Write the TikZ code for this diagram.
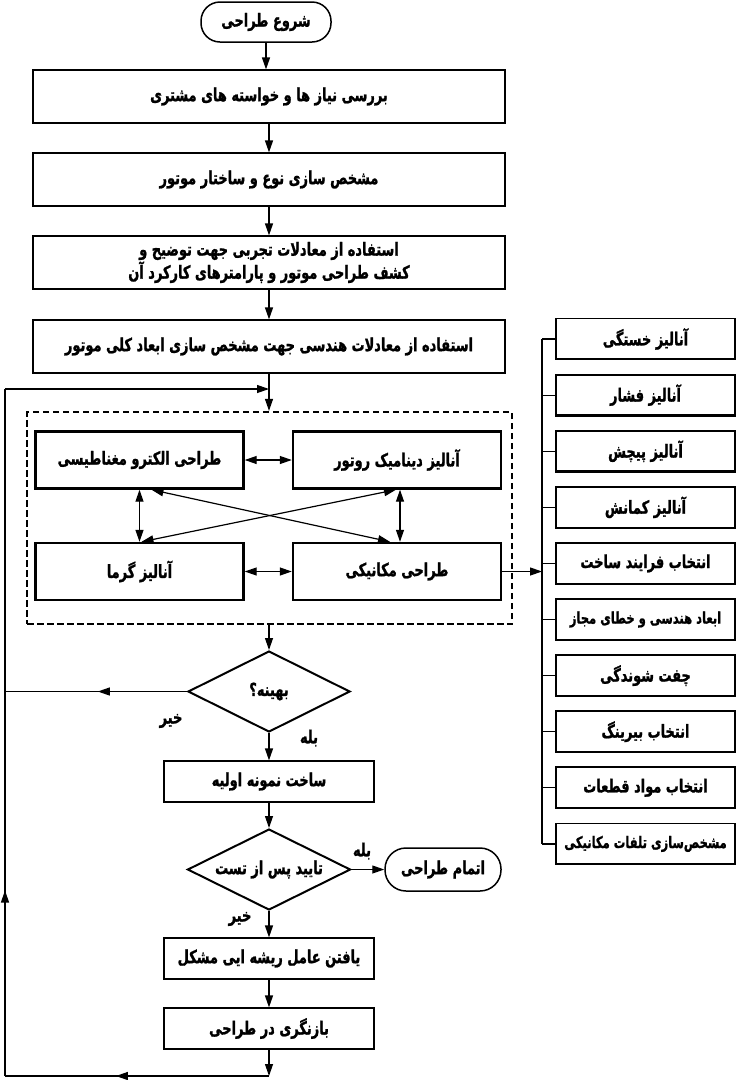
\documentclass[tikz,border=0pt]{standalone}
\usepackage{fontspec}
\newfontfamily\persianfont[Script=Arabic, FakeStretch=0.72, BoldFeatures={FakeBold=1.2}]{DejaVu Sans}
\TeXXeTstate=1
\usetikzlibrary{arrows.meta,shapes.geometric,calc,decorations.markings}
\newcommand{\fa}[1]{\beginR #1\endR}
\newcommand{\tight}[1]{{\fontsize{16}{19}\selectfont #1}}
\tikzset{
  >={Triangle[length=12pt,width=8pt]},
  conn/.style={line width=1.2pt},
  boxbase/.style={draw, inner sep=2pt, align=center},
  mainbox/.style={boxbase, line width=1.2pt,
    path picture={\draw[line width=2.4pt] (path picture bounding box.south west) -- (path picture bounding box.south east) -- (path picture bounding box.north east);}},
  innerbox/.style={boxbase, line width=2.4pt, minimum width=208pt, minimum height=57pt},
  sidebox/.style={boxbase, line width=1.8pt, minimum width=179pt, minimum height=41pt,
    path picture={\draw[line width=2.6pt] (path picture bounding box.south west) -- (path picture bounding box.south east) -- (path picture bounding box.north east);}},
  term/.style={draw, line width=1.5pt, rounded corners=19pt, inner sep=2pt},
  dec/.style={draw, diamond, line width=2pt, inner sep=0pt, shape aspect=2},
  dashbox/.style={draw, line width=2.3pt, dash pattern=on 6.5pt off 3.5pt},
  lbl/.style={inner sep=1pt},
  midarrow/.style={conn, postaction={decorate}, decoration={markings, mark=at position #1 with {\arrow{>}}}}
}
\begin{document}
\begin{tikzpicture}[x=1pt,y=-1pt, font=\persianfont\bfseries\fontsize{18}{23}\selectfont]
\useasboundingbox[fill=white] (0,0) rectangle (736,1080);

% main column
\node[term, minimum width=130pt, minimum height=40pt] (start) at (266,22) {\fa{شروع طراحی}};
\node[mainbox, minimum width=472pt, minimum height=53pt] (b1) at (269,96.5) {\fa{بررسی نیاز ها و خواسته های مشتری}};
\node[mainbox, minimum width=472pt, minimum height=53pt] (b2) at (269,179.5) {\fa{مشخص سازی نوع و ساختار موتور}};
\node[mainbox, minimum width=472pt, minimum height=53pt] (b3) at (269,262.5) {\fa{استفاده از معادلات تجربی جهت توضیح و}\\\fa{کشف طراحی موتور و پارامترهای کارکرد آن}};
\node[mainbox, minimum width=472pt, minimum height=53pt] (b4) at (269,346.5) {\fa{استفاده از معادلات هندسی جهت مشخص سازی ابعاد کلی موتور}};

\draw[conn,->] (start.south) -- (start.south |- b1.north);
\draw[conn,->] (b1.south) -- (b2.north);
\draw[conn,->] (b2.south) -- (b3.north);
\draw[conn,->] (b3.south) -- (b4.north);

% dashed group
\node[dashbox, minimum width=485pt, minimum height=212pt] (grp) at (269.5,518) {};
\node[innerbox] (em) at (139.5,460) {\fa{طراحی الکترو مغناطیسی}};
\node[innerbox] (rotor) at (397,460) {\fa{آنالیز دینامیک روتور}};
\node[innerbox] (therm) at (139.5,571.5) {\fa{آنالیز گرما}};
\node[innerbox] (mech) at (397,571.5) {\fa{طراحی مکانیکی}};

\draw[conn,<->] (em.east) -- (rotor.west);
\draw[conn,<->] (therm.east) -- (mech.west);
\draw[conn,<->] (em.south) -- (therm.north);
\draw[conn,<->] ($(rotor.south)+(3,0)$) -- ($(mech.north)+(3,0)$);
\draw[conn,<->] ($(em.south)+(12,0)$) -- ($(mech.north)+(-7,0)$);
\draw[conn,<->] ($(rotor.south)+(-1,0)$) -- ($(therm.north)+(2,0)$);

% right column
\coordinate (rail) at (542,339);
\foreach \i/\t in {0/{آنالیز خستگی},1/{آنالیز فشار},2/{آنالیز پیچش},3/{آنالیز کمانش},4/{انتخاب فرایند ساخت},5/{\tight{ابعاد هندسی و خطای مجاز}},6/{چفت شوندگی},7/{انتخاب بیرینگ},8/{انتخاب مواد قطعات},9/{\tight{مشخص‌سازی تلفات مکانیکی}}}{
  \node[sidebox] (r\i) at (645.5,{339+56.1*\i}) {\fa{\t}};
  \draw[conn] (r\i.west -| rail) -- (r\i.west);
}
\draw[conn] (r0.west -| rail) -- (r9.west -| rail);
\draw[conn,->] (mech.east) -- (mech.east -| rail);

% lower column
\node[dec, minimum width=162pt, minimum height=81pt] (d1) at (269,691.5) {\fa{بهینه؟}};
\node[mainbox, minimum width=210pt, minimum height=41pt] (proto) at (269,781.5) {\fa{ساخت نمونه اولیه}};
\node[dec, minimum width=163pt, minimum height=81pt] (d2) at (269,869.5) {\fa{تایید پس از تست}};
\node[term, minimum width=116pt, minimum height=43pt, rounded corners=21pt] (fin) at (443,869.5) {\fa{اتمام طراحی}};
\node[mainbox, minimum width=210pt, minimum height=41pt] (rca) at (269,958.5) {\fa{یافتن عامل ریشه ایی مشکل}};
\node[mainbox, minimum width=210pt, minimum height=41pt] (rev) at (269,1028.5) {\fa{بازنگری در طراحی}};

\node[lbl] (no1) at (171,721) {\fa{خیر}};
\node[lbl] (yes1) at (309,738) {\fa{بله}};
\node[lbl] (yes2) at (362,851) {\fa{بله}};
\node[lbl] (no2) at (240,919) {\fa{خیر}};

\draw[conn,->] (d1.north |- grp.south) -- (d1.north);
\draw[conn,->] (d1.south) -- (proto.north);
\draw[conn,->] (proto.south) -- (d2.north);
\draw[conn,->] (d2.east) -- (fin.west);
\draw[conn,->] (d2.south) -- (rca.north);
\draw[conn,->] (rca.south) -- (rev.north);

% feedback loop
\coordinate (cBL) at (5,1076);
\coordinate (cTL) at (5,389);
\draw[conn,->] (rev.south) -- (rev.south |- cBL);
\draw[midarrow=0.58] (rev.south |- cBL) -- (cBL);
\draw[midarrow=0.27] (cBL) -- (cTL);
\draw[conn,->] (cTL) -- (b4.south |- cTL);
\draw[conn,->] (b4.south) -- (b4.south |- grp.north);
\draw[midarrow=0.49] (d1.west) -- (d1.west -| cBL);
\end{tikzpicture}
\end{document}
